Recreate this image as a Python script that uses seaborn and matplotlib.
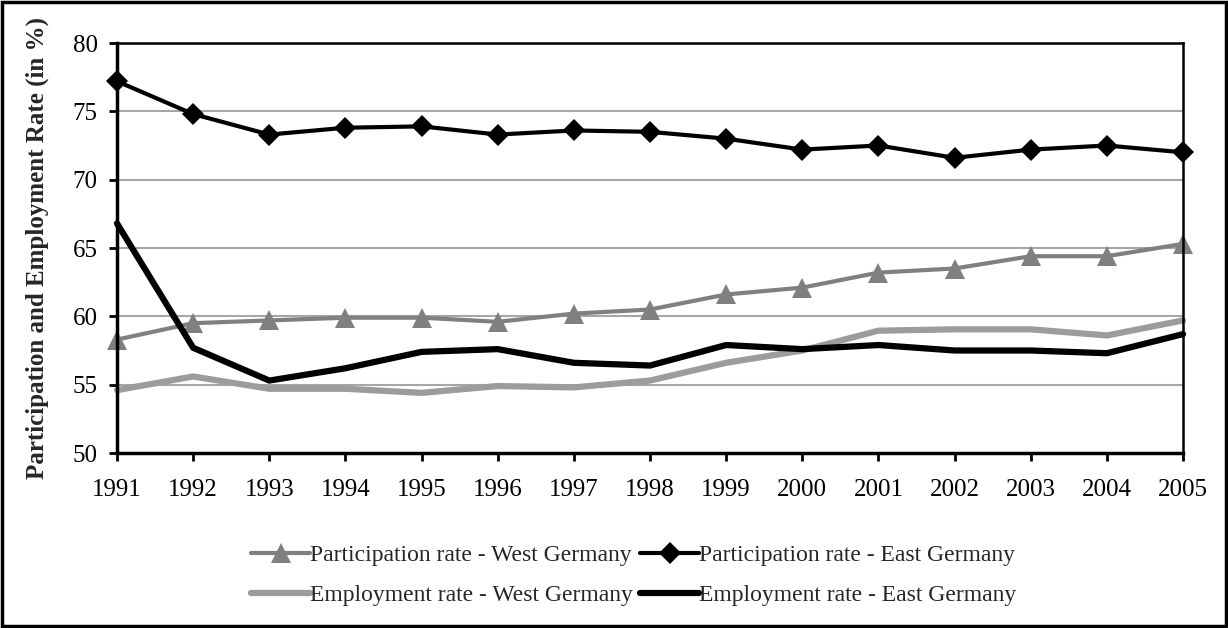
import matplotlib
matplotlib.use("Agg")
import matplotlib.pyplot as plt
from matplotlib.patches import Rectangle
import seaborn as sns
import pandas as pd

# Werte
years = list(range(1991, 2006))
part_west = [58.3, 59.5, 59.7, 59.9, 59.9, 59.6, 60.2, 60.5, 61.6, 62.1, 63.2, 63.5, 64.4, 64.4, 65.3]
part_east = [77.2, 74.8, 73.3, 73.8, 73.9, 73.3, 73.6, 73.5, 73.0, 72.2, 72.5, 71.6, 72.2, 72.5, 72.0]
empl_west = [54.6, 55.6, 54.7, 54.7, 54.4, 54.9, 54.8, 55.3, 56.6, 57.5, 58.95, 59.05, 59.05, 58.6, 59.7]
empl_east = [66.8, 57.7, 55.3, 56.2, 57.4, 57.6, 56.6, 56.4, 57.9, 57.6, 57.9, 57.5, 57.5, 57.3, 58.7]
y_ticks = [50, 55, 60, 65, 70, 75, 80]

sns.set_style("white")
plt.rcParams['font.family'] = ['Liberation Serif', 'DejaVu Serif']

W, H = 1228, 628
fig = plt.figure(figsize=(W / 100, H / 100), dpi=100)
ax = fig.add_axes([117 / W, 1 - 453 / H, (1183 - 117) / W, (453 - 43) / H])

series = [
    ("Participation rate - West Germany", part_west, dict(color='#808080', lw=3, marker='^', ms=14)),
    ("Participation rate - East Germany", part_east, dict(color='black', lw=3, marker='D', ms=11)),
    ("Employment rate - West Germany", empl_west, dict(color='#9c9c9c', lw=4.5, marker=None)),
    ("Employment rate - East Germany", empl_east, dict(color='black', lw=4.5, marker=None)),
]

for label, vals, st in series:
    df = pd.DataFrame({'year': years, 'value': vals})
    sns.lineplot(data=df, x='year', y='value', ax=ax, label=label,
                 color=st['color'], linewidth=st['lw'], marker=st['marker'],
                 markersize=st.get('ms', 0), markeredgewidth=0, clip_on=False)

ax.set_xlim(years[0], years[-1])
ax.set_ylim(50, 80)
ax.set_yticks(y_ticks)
ax.set_xticks(years)
ax.set_xticklabels([str(y) for y in years])
ax.yaxis.grid(True, color='#a6a6a6', linewidth=1.5)
ax.set_axisbelow(True)
ax.tick_params(axis='both', labelsize=18, direction='out', length=6, width=2,
               bottom=True, left=True, colors='black')
ax.tick_params(axis='x', pad=13)
ax.tick_params(axis='y', pad=8)

for side in ['left', 'bottom']:
    ax.spines[side].set_color('black')
    ax.spines[side].set_linewidth(2.5)
for side in ['top', 'right']:
    ax.spines[side].set_color('black')
    ax.spines[side].set_linewidth(1.8)

ax.set_xlabel('')
ax.set_ylabel('Participation and Employment Rate (in %)', fontsize=18, fontweight='bold')
ax.yaxis.set_label_coords(-0.064, 0.5)

# Reihenfolge so, dass die Legende zeilenweise wie im Original liest
handles, labels = ax.get_legend_handles_labels()
order = [0, 2, 1, 3]
ax.legend([handles[i] for i in order], [labels[i] for i in order],
          loc='upper center', bbox_to_anchor=(0.485, -0.2), ncol=2, frameon=False,
          fontsize=17, handlelength=2.5, handletextpad=0.0, columnspacing=0.3,
          labelspacing=0.8, borderaxespad=0)

fig.patches.append(Rectangle((0.002, 0.003), 0.996, 0.994, transform=fig.transFigure,
                             fill=False, edgecolor='black', linewidth=2.5))

fig.savefig('out.png', dpi=100, facecolor='white')
plt.close(fig)
